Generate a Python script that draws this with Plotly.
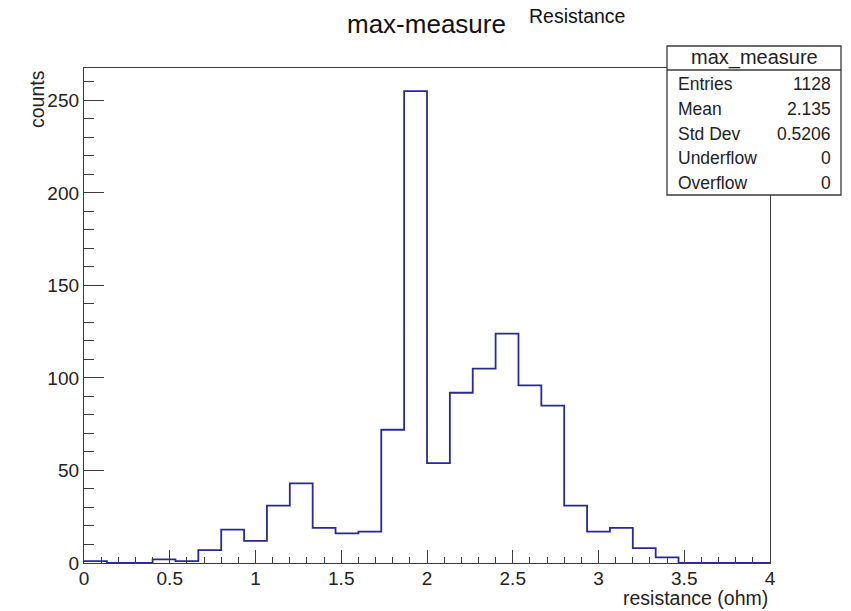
import plotly.graph_objects as go

# ---- data ----
x_min, x_max, n_bins = 0.0, 4.0, 30
counts = [1, 0, 0, 2, 1, 7, 18, 12, 31, 43, 19, 16, 17, 72, 255,
          54, 92, 105, 124, 96, 85, 31, 17, 19, 8, 3, 0, 0, 0, 0]
x_tick_vals = [0, 0.5, 1, 1.5, 2, 2.5, 3, 3.5, 4]
x_tick_text = ["0", "0.5", "1", "1.5", "2", "2.5", "3", "3.5", "4"]
stats_title = "max_measure"
stats_labels = ["Entries", "Mean", "Std Dev", "Underflow", "Overflow"]
stats_values = ["1128", "2.135", "0.5206", "0", "0"]
title_main = "max-measure"
title_sup = "Resistance"
x_title = "resistance (ohm)"
y_title = "counts"

bw = (x_max - x_min) / n_bins
edges = [x_min + i * bw for i in range(n_bins + 1)]
ys = counts + [counts[-1]]

W, H = 851, 611
L, R, T, B = 84, 81, 68, 48
pw, ph = W - L - R, H - T - B

def px(xp):
    return (xp - L) / pw

def py(yp):
    return (H - B - yp) / ph

FONT = "Liberation Sans, Arial, Helvetica, sans-serif"
LINE = "#3a3a3a"

fig = go.Figure()
fig.add_trace(go.Scatter(x=edges, y=ys, mode="lines", line_shape="hv",
                         line=dict(color="rgb(40,40,155)", width=1.8),
                         hoverinfo="skip", showlegend=False))

fig.update_layout(
    width=W, height=H, autosize=False,
    margin=dict(l=L, r=R, t=T, b=B, pad=0),
    paper_bgcolor="white", plot_bgcolor="white",
    font=dict(family=FONT, size=19, color="#222"),
    showlegend=False,
)
fig.update_xaxes(range=[x_min, x_max], showgrid=False, zeroline=False,
                 showline=True, linecolor=LINE, linewidth=1.3, mirror=True,
                 ticks="inside", ticklen=13, tickwidth=1.2, tickcolor=LINE,
                 tickmode="array", tickvals=x_tick_vals, ticktext=x_tick_text,
                 ticklabelstandoff=-2,
                 minor=dict(ticks="inside", ticklen=6, dtick=0.1, tick0=0, tickwidth=1.2, tickcolor=LINE, showgrid=False),
                 tickfont=dict(size=19, family=FONT, color="#222"))
fig.update_yaxes(range=[0, 267.5], showgrid=False, zeroline=False,
                 showline=True, linecolor=LINE, linewidth=1.3, mirror=True,
                 ticks="inside", ticklen=20, tickwidth=1.2, tickcolor=LINE,
                 tick0=0, dtick=50,
                 minor=dict(ticks="inside", ticklen=10, dtick=10, tickwidth=1.2, tickcolor=LINE, showgrid=False),
                 tickfont=dict(size=19, family=FONT, color="#222"))

ann = []
ann.append(dict(text=title_main, xref="paper", yref="paper", x=px(345), y=py(24),
                xanchor="left", yanchor="middle", showarrow=False,
                font=dict(size=26, family=FONT, color="#111")))
ann.append(dict(text=title_sup, xref="paper", yref="paper", x=px(527), y=py(16),
                xanchor="left", yanchor="middle", showarrow=False,
                font=dict(size=19.5, family=FONT, color="#111")))
ann.append(dict(text=x_title, xref="paper", yref="paper", x=1.0, y=py(598),
                xanchor="right", yanchor="middle", showarrow=False,
                font=dict(size=19.5, family=FONT, color="#222")))
ann.append(dict(text=y_title, xref="paper", yref="paper", x=px(37), y=1.0,
                xanchor="center", yanchor="top", textangle=-90, showarrow=False,
                font=dict(size=19.5, family=FONT, color="#222")))

# stats box
bx0, bx1, by0, by1, bsep = 667, 841, 46, 195, 70
shapes = [
    dict(type="rect", xref="paper", yref="paper", x0=px(bx0), x1=px(bx1), y0=py(by1), y1=py(by0),
         fillcolor="white", line=dict(color=LINE, width=1.3), layer="above"),
    dict(type="line", xref="paper", yref="paper", x0=px(bx0), x1=px(bx1), y0=py(bsep), y1=py(bsep),
         line=dict(color=LINE, width=1.3), layer="above"),
]
ann.append(dict(text=stats_title, xref="paper", yref="paper", x=px((bx0 + bx1) / 2), y=py(57),
                xanchor="center", yanchor="middle", showarrow=False,
                font=dict(size=20, family=FONT, color="#222")))
row_y = [84, 109, 134, 158, 183]
for lab, val, yy in zip(stats_labels, stats_values, row_y):
    ann.append(dict(text=lab, xref="paper", yref="paper", x=px(676), y=py(yy),
                    xanchor="left", yanchor="middle", showarrow=False,
                    font=dict(size=17.5, family=FONT, color="#222")))
    ann.append(dict(text=val, xref="paper", yref="paper", x=px(833), y=py(yy),
                    xanchor="right", yanchor="middle", showarrow=False,
                    font=dict(size=17.5, family=FONT, color="#222")))

fig.update_layout(annotations=ann, shapes=shapes)
fig.write_html("out.html")
